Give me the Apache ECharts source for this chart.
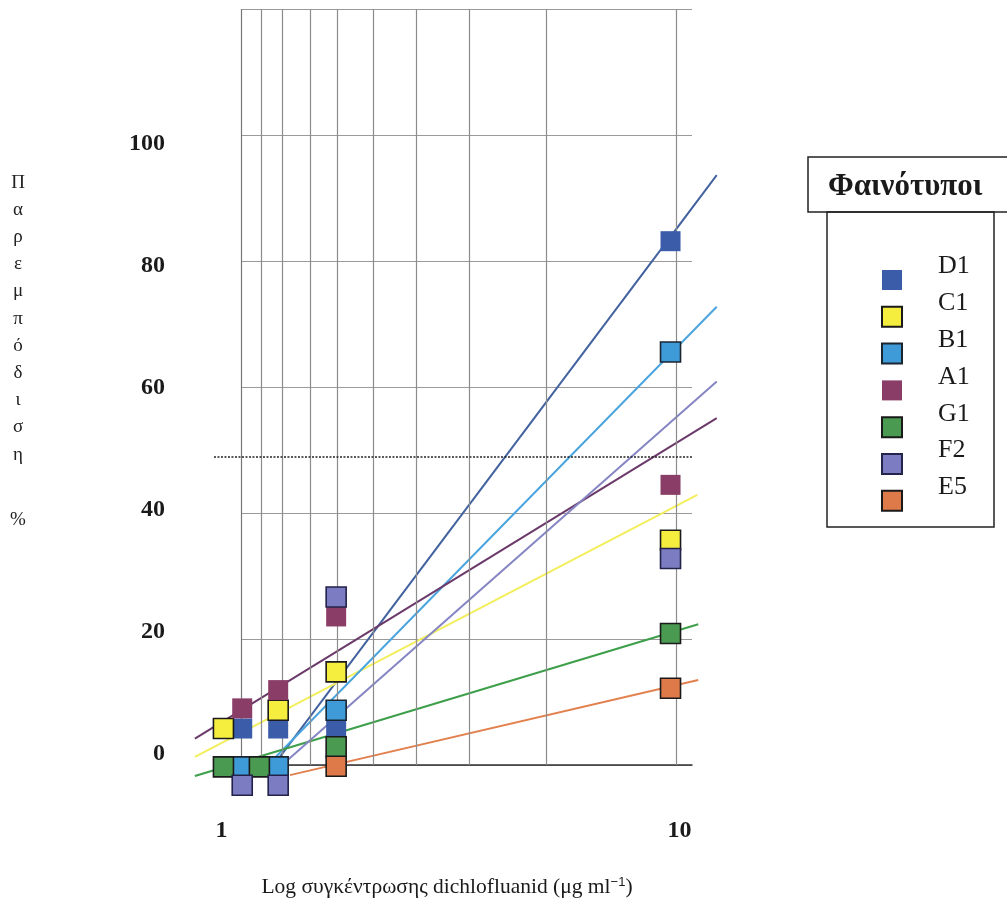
<!DOCTYPE html>
<html><head><meta charset="utf-8">
<script src="https://cdn.jsdelivr.net/npm/echarts@6/dist/echarts.min.js"></script>
<style>html,body{margin:0;padding:0;background:#fff}#c{width:1007px;height:912px}</style>
</head><body><div id="c"></div>
<script>
// ---- data ----
const phenotypes = ['D1', 'C1', 'B1', 'A1', 'G1', 'F2', 'E5'];
// measured points: concentration (μg/ml, log axis) and inhibition %
const concD1 = [1.11, 1.33, 1.78, 9.56];
const inhD1  = [5.8, 5.8, 5.8, 83.2];
const concC1 = [1.01, 1.33, 1.78, 9.56];
const inhC1  = [5.8, 8.7, 14.8, 35.7];
const concB1 = [1.11, 1.33, 1.78, 9.56];
const inhB1  = [-0.3, -0.3, 8.7, 65.6];
const concA1 = [1.11, 1.33, 1.78, 9.56];
const inhA1  = [9.0, 11.9, 23.6, 44.5];
const concG1 = [1.01, 1.21, 1.78, 9.56];
const inhG1  = [-0.3, -0.3, 2.9, 20.9];
const concF2 = [1.11, 1.33, 1.78, 9.56];
const inhF2  = [-3.2, -3.2, 26.7, 32.8];
const concE5 = [1.78, 9.56];
const inhE5  = [-0.2, 12.2];
// fitted trend lines: [start, end]
const fitConcD1 = [1.31, 12.06];  const fitInhD1 = [0.3, 93.7];
const fitConcC1 = [0.875, 10.94]; const fitInhC1 = [1.3, 42.9];
const fitConcB1 = [1.226, 12.06]; const fitInhB1 = [-0.95, 72.8];
const fitConcA1 = [0.875, 12.06]; const fitInhA1 = [4.2, 55.1];
const fitConcG1 = [0.875, 10.99]; const fitInhG1 = [-1.75, 22.35];
const fitConcF2 = [1.356, 12.06]; const fitInhF2 = [0.0, 60.9];
const fitConcE5 = [1.411, 10.99]; const fitInhE5 = [-1.6, 13.5];
// axis ticks / reference lines
const yTickLabels = [0, 20, 40, 60, 80, 100];
const xTickLabels = [1, 10];
const xGridValues = [1.222, 1.359, 1.56, 1.788, 2.14, 2.66, 3.48, 5.12, 9.86];
const halfLevel = 49;
const halfLevelFrom = 0.963, halfLevelTo = 10.65;

// ---- styles ----
const serif = '"Liberation Serif","Times New Roman",serif';
const styles = {
  D1: {fill: '#3b5ca8', border: null,      line: '#42629f'},
  C1: {fill: '#f6ee3e', border: '#1a1a1a', line: '#f3ee5c'},
  B1: {fill: '#3f9bd8', border: '#1a2530', line: '#4aa4dd'},
  A1: {fill: '#8a3d66', border: null,      line: '#6b3a6a'},
  G1: {fill: '#4b9a52', border: '#1a1a1a', line: '#3d9f4a'},
  F2: {fill: '#7c7cc2', border: '#22224a', line: '#8585c4'},
  E5: {fill: '#de7a4a', border: '#1a1a1a', line: '#e2804e'}
};
const pts = {D1: [concD1, inhD1], C1: [concC1, inhC1], B1: [concB1, inhB1], A1: [concA1, inhA1],
             G1: [concG1, inhG1], F2: [concF2, inhF2], E5: [concE5, inhE5]};
const fits = {D1: [fitConcD1, fitInhD1], C1: [fitConcC1, fitInhC1], B1: [fitConcB1, fitInhB1],
              A1: [fitConcA1, fitInhA1], G1: [fitConcG1, fitInhG1], F2: [fitConcF2, fitInhF2],
              E5: [fitConcE5, fitInhE5]};
const zip = (a, b) => a.map((v, i) => [v, b[i]]);

// data live on the wide grid (index 1) which shares the frame's scale
const series = [];
phenotypes.forEach(n => {
  const s = styles[n];
  series.push({
    name: n, type: 'scatter', xAxisIndex: 1, yAxisIndex: 2, z: 5,
    symbol: 'rect', symbolSize: 20,
    itemStyle: {color: s.fill, borderColor: s.border || s.fill, borderWidth: s.border ? 1.6 : 0, opacity: 1},
    emphasis: {disabled: true},
    data: zip(pts[n][0], pts[n][1])
  });
});
phenotypes.forEach(n => {
  series.push({
    name: n, type: 'line', xAxisIndex: 1, yAxisIndex: 2, z: 3,
    symbol: 'none', showSymbol: false, silent: true,
    lineStyle: {color: styles[n].line, width: 2},
    data: zip(fits[n][0], fits[n][1])
  });
});
// vertical grid lines of the frame
series.push({
  type: 'scatter', xAxisIndex: 0, yAxisIndex: 0, data: [], silent: true, z: 1,
  markLine: {
    silent: true, symbol: ['none', 'none'], label: {show: false}, animation: false,
    lineStyle: {color: '#8c8c8c', width: 1.2, type: 'solid'},
    data: xGridValues.map(v => ({xAxis: v}))
  }
});
// dotted 50 % reference line
series.push({
  type: 'scatter', xAxisIndex: 1, yAxisIndex: 2, data: [], silent: true, z: 2,
  markLine: {
    silent: true, symbol: ['none', 'none'], label: {show: false}, animation: false,
    lineStyle: {color: '#222', width: 1.6, type: [2, 1.5]},
    data: [[{coord: [halfLevelFrom, halfLevel]}, {coord: [halfLevelTo, halfLevel]}]]
  }
});

const chart = echarts.init(document.getElementById('c'), null, {renderer: 'canvas'});
chart.setOption({
  animation: false,
  backgroundColor: '#ffffff',
  grid: [
    {left: 241.5, top: 9.5, width: 450.5, height: 755.5},
    {left: 190, top: 9.5, width: 530, height: 805.9}
  ],
  xAxis: [
    {type: 'log', logBase: 10, gridIndex: 0, min: 1.1058, max: 10.648,
     axisLine: {show: true, lineStyle: {color: '#333', width: 1.5}},
     axisTick: {show: false}, axisLabel: {show: false}, splitLine: {show: false}},
    {type: 'log', logBase: 10, gridIndex: 1, min: 0.8537, max: 12.26,
     axisLine: {show: false}, axisTick: {show: false}, splitLine: {show: false},
     axisLabel: {show: true, showMinLabel: false, showMaxLabel: false, margin: 3,
       fontFamily: serif, fontWeight: 'bold', fontSize: 24, color: '#1a1a1a',
       formatter: v => xTickLabels.some(t => Math.abs(v - t) < 1e-6 * t) ? String(Math.round(v)) : ''}}
  ],
  yAxis: [
    {type: 'value', gridIndex: 0, min: 0, max: 120, interval: 20,
     axisLine: {show: true, lineStyle: {color: '#777', width: 1.2}},
     axisTick: {show: false}, axisLabel: {show: false},
     splitLine: {show: true, lineStyle: {color: '#9a9a9a', width: 1.2}}},
    {type: 'value', gridIndex: 0, position: 'left', offset: 0, min: -1.8, max: 122.05,
     axisLine: {show: false}, axisTick: {show: false}, splitLine: {show: false},
     axisLabel: {show: true, customValues: yTickLabels, margin: 76.5,
       fontFamily: serif, fontWeight: 'bold', fontSize: 24, color: '#1a1a1a'}},
    {type: 'value', gridIndex: 1, show: false, min: -8, max: 120}
  ],
  legend: {
    orient: 'vertical', left: 881, top: 253.5, padding: 0,
    itemWidth: 20, itemHeight: 20, itemGap: -6.7, icon: 'rect',
    data: phenotypes, selectedMode: false,
    formatter: '{t|{name}}\n{g| }',
    textStyle: {fontFamily: serif, fontSize: 26, color: '#1a1a1a',
      rich: {t: {fontFamily: serif, fontSize: 26, lineHeight: 24, color: '#1a1a1a', padding: [0, 0, 0, 31]},
             g: {fontSize: 10, lineHeight: 27}}}
  },
  graphic: [
    {type: 'rect', shape: {x: 808, y: 157, width: 210, height: 55}, style: {fill: 'none', stroke: '#222', lineWidth: 1.5}},
    {type: 'rect', shape: {x: 827, y: 212, width: 167, height: 315}, style: {fill: 'none', stroke: '#222', lineWidth: 1.5}},
    {type: 'text', x: 828, y: 187, style: {text: 'Φαινότυποι', font: 'bold 31px ' + serif, fill: '#1a1a1a', verticalAlign: 'middle'}},
    {type: 'text', x: 18, y: 169, style: {text: 'Παρεμπόδιση'.split('').join('\n'), font: '19px ' + serif,
      lineHeight: 27.2, fill: '#222', align: 'center', verticalAlign: 'top'}},
    {type: 'text', x: 18, y: 520, style: {text: '%', font: '19px ' + serif, fill: '#222', align: 'center', verticalAlign: 'middle'}},
    {type: 'text', x: 447, y: 887, style: {
      text: 'Log συγκέντρωσης dichlofluanid (μg ml{sup|−1})',
      rich: {sup: {fontSize: 13, verticalAlign: 'top', lineHeight: 14}},
      font: '21.5px ' + serif, fill: '#1a1a1a', align: 'center', verticalAlign: 'middle'}}
  ],
  series: series
});
</script></body></html>
